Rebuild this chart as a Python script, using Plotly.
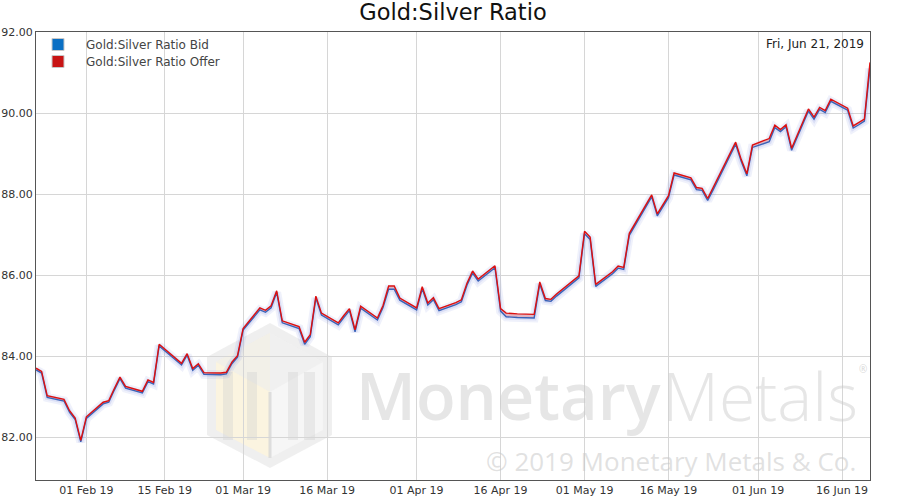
import plotly.graph_objects as go

# ---------------- data ----------------
dates = [
    "2019-01-23", "2019-01-24", "2019-01-25", "2019-01-28", "2019-01-29", "2019-01-30", "2019-01-31",
    "2019-02-01", "2019-02-04", "2019-02-05", "2019-02-06", "2019-02-07", "2019-02-08",
    "2019-02-11", "2019-02-12", "2019-02-13", "2019-02-14", "2019-02-15",
    "2019-02-18", "2019-02-19", "2019-02-20", "2019-02-21", "2019-02-22",
    "2019-02-25", "2019-02-26", "2019-02-27", "2019-02-28", "2019-03-01",
    "2019-03-04", "2019-03-05", "2019-03-06", "2019-03-07", "2019-03-08",
    "2019-03-11", "2019-03-12", "2019-03-13", "2019-03-14", "2019-03-15",
    "2019-03-18", "2019-03-19", "2019-03-20", "2019-03-21", "2019-03-22",
    "2019-03-25", "2019-03-26", "2019-03-27", "2019-03-28", "2019-03-29",
    "2019-04-01", "2019-04-02", "2019-04-03", "2019-04-04", "2019-04-05",
    "2019-04-08", "2019-04-09", "2019-04-10", "2019-04-11", "2019-04-12",
    "2019-04-15", "2019-04-16", "2019-04-17", "2019-04-18", "2019-04-19",
    "2019-04-22", "2019-04-23", "2019-04-24", "2019-04-25", "2019-04-26",
    "2019-04-29", "2019-04-30", "2019-05-01", "2019-05-02", "2019-05-03",
    "2019-05-06", "2019-05-07", "2019-05-08", "2019-05-09", "2019-05-10",
    "2019-05-13", "2019-05-14", "2019-05-15", "2019-05-16", "2019-05-17",
    "2019-05-20", "2019-05-21", "2019-05-22", "2019-05-23", "2019-05-24",
    "2019-05-28", "2019-05-29", "2019-05-30", "2019-05-31",
    "2019-06-03", "2019-06-04", "2019-06-05", "2019-06-06", "2019-06-07",
    "2019-06-10", "2019-06-11", "2019-06-12", "2019-06-13", "2019-06-14",
    "2019-06-17", "2019-06-18", "2019-06-19", "2019-06-20", "2019-06-21",
]

offer = [
    83.70, 83.62, 83.02, 82.93, 82.65, 82.47, 81.92,
    82.50, 82.86, 82.90, 83.20, 83.48, 83.25,
    83.13, 83.41, 83.35, 84.29, 84.17,
    83.82, 84.06, 83.69, 83.81, 83.59,
    83.58, 83.60, 83.85, 84.01, 84.68,
    85.19, 85.13, 85.24, 85.61, 84.87,
    84.73, 84.34, 84.53, 85.48, 85.06,
    84.82, 85.00, 85.17, 84.65, 85.23,
    84.94, 85.25, 85.73, 85.73, 85.43,
    85.19, 85.71, 85.31, 85.44, 85.17,
    85.32, 85.39, 85.80, 86.10, 85.90,
    86.23, 85.17, 85.06, 85.05, 85.04,
    85.03, 85.83, 85.42, 85.40, 85.53,
    85.86, 85.98, 87.08, 86.94, 85.77,
    86.08, 86.22, 86.19, 87.03, 87.27,
    87.98, 87.51, 87.74, 87.96, 88.52,
    88.40, 88.16, 88.14, 87.89, 88.16,
    89.28, 88.85, 88.50, 89.21,
    89.37, 89.70, 89.59, 89.71, 89.13,
    90.10, 89.90, 90.14, 90.06, 90.34,
    90.12, 89.68, 89.76, 89.85, 91.25,
]

bid = [
    83.66, 83.58, 82.98, 82.89, 82.61, 82.43, 81.88,
    82.46, 82.82, 82.86, 83.16, 83.44, 83.21,
    83.09, 83.37, 83.31, 84.25, 84.13,
    83.78, 84.02, 83.65, 83.77, 83.55,
    83.54, 83.56, 83.81, 83.97, 84.64,
    85.14, 85.08, 85.19, 85.57, 84.82,
    84.68, 84.29, 84.48, 85.43, 85.01,
    84.77, 84.95, 85.12, 84.60, 85.18,
    84.89, 85.20, 85.65, 85.65, 85.38,
    85.14, 85.66, 85.26, 85.39, 85.12,
    85.27, 85.34, 85.75, 86.05, 85.85,
    86.18, 85.11, 84.97, 84.96, 84.95,
    84.94, 85.78, 85.37, 85.35, 85.48,
    85.81, 85.93, 87.02, 86.88, 85.72,
    86.03, 86.17, 86.14, 86.98, 87.22,
    87.93, 87.46, 87.69, 87.91, 88.47,
    88.35, 88.11, 88.09, 87.84, 88.11,
    89.23, 88.80, 88.45, 89.15,
    89.29, 89.64, 89.54, 89.66, 89.08,
    90.05, 89.85, 90.09, 90.01, 90.29,
    90.07, 89.63, 89.71, 89.80, 91.10,
]

x_tick_vals = ["2019-02-01", "2019-02-15", "2019-03-01", "2019-03-16", "2019-04-01",
               "2019-04-16", "2019-05-01", "2019-05-16", "2019-06-01", "2019-06-16"]
y_tick_vals = [82, 84, 86, 88, 90, 92]

series_names = ["Gold:Silver Ratio Bid", "Gold:Silver Ratio Offer"]
title_text = "Gold:Silver Ratio"
date_text = "Fri, Jun 21, 2019"
x_range = ["2019-01-23", "2019-06-21"]
y_range = [80.94, 92.0]

# ---------------- geometry helpers (decoration only) ----------------
W, H = 900, 500
L, R, T, B = 36, 30, 32, 20
PW, PH = W - L - R, H - T - B


def px(x):
    return (x - L) / PW


def py(y):
    return (H - B - y) / PH


def path(points):
    return "M " + " L ".join(f"{px(a):.4f},{py(b):.4f}" for a, b in points) + " Z"


FONT = "DejaVu Sans"
BLUE = "#3a63b8"
RED = "#dc1010"

fig = go.Figure()

# soft glow under the lines
fig.add_trace(go.Scatter(x=dates, y=bid, mode="lines", showlegend=False, hoverinfo="skip",
                         line=dict(color="rgba(130,145,225,0.13)", width=9)))
fig.add_trace(go.Scatter(x=dates, y=bid, mode="lines", showlegend=False, hoverinfo="skip",
                         line=dict(color="rgba(130,145,225,0.18)", width=5)))

# bid and offer lines with fill between
fig.add_trace(go.Scatter(x=dates, y=bid, mode="lines", name=series_names[0], showlegend=False,
                         line=dict(color=BLUE, width=1.4)))
fig.add_trace(go.Scatter(x=dates, y=offer, mode="lines", name=series_names[1], showlegend=False,
                         line=dict(color=RED, width=1.4), fill="tonexty",
                         fillcolor="rgba(230,70,70,0.28)"))

# legend entries (square swatches), one legend box per entry for exact spacing
fig.add_trace(go.Scatter(x=[None], y=[None], mode="markers", name=series_names[0], legend="legend",
                         marker=dict(symbol="square", size=12, color="#0a6fc4",
                                     line=dict(color="#c8c8c8", width=1))))
fig.add_trace(go.Scatter(x=[None], y=[None], mode="markers", name=series_names[1], legend="legend2",
                         marker=dict(symbol="square", size=12, color="#c81414",
                                     line=dict(color="#c8c8c8", width=1))))

# ---------------- watermark logo (hexagon) ----------------
hexo = [(270, 323), (332, 357), (332, 435), (270, 468), (207, 435), (207, 357)]
left_face = [(270, 333), (270, 458), (216, 430), (216, 362)]
right_face = [(270, 333), (323, 362), (323, 430), (270, 458)]
shapes = [
    dict(type="path", path=path(hexo), xref="paper", yref="paper", layer="below",
         fillcolor="rgba(226,226,226,0.55)", line=dict(width=0)),
    dict(type="path", path=path(left_face), xref="paper", yref="paper", layer="below",
         fillcolor="rgba(252,244,222,0.9)", line=dict(width=0)),
    dict(type="path", path=path(right_face), xref="paper", yref="paper", layer="below",
         fillcolor="rgba(246,246,246,0.95)", line=dict(width=0)),
    dict(type="path", path=path([(216, 362), (270, 392), (323, 362), (270, 333)]),
         xref="paper", yref="paper", layer="below",
         fillcolor="rgba(236,236,236,0.6)", line=dict(width=0)),
    dict(type="line", xref="paper", yref="paper", layer="below",
         x0=px(270), x1=px(270), y0=py(392), y1=py(458),
         line=dict(color="rgba(215,215,215,0.8)", width=3)),
]
for (a, b) in [(223, 233), (247, 257), (288, 298), (304, 315)]:
    shapes.append(dict(type="rect", xref="paper", yref="paper", layer="below",
                       x0=px(a), x1=px(b), y0=py(440), y1=py(372),
                       fillcolor="rgba(205,205,205,0.35)", line=dict(width=0)))

annotations = [
    dict(text=date_text, xref="paper", yref="paper", x=px(866), y=py(44),
         xanchor="right", yanchor="middle", showarrow=False,
         font=dict(family=FONT, size=12, color="#222")),
    dict(text="Monetary", xref="paper", yref="paper", x=px(354), y=py(395),
         xanchor="left", yanchor="middle", showarrow=False,
         font=dict(family="Open Sans", size=65, color="rgba(200,200,200,0.45)", weight=600)),
    dict(text="Metals", xref="paper", yref="paper", x=px(660), y=py(395),
         xanchor="left", yanchor="middle", showarrow=False,
         font=dict(family="Open Sans", size=66, color="rgba(200,200,200,0.45)", weight=300)),
    dict(text="®", xref="paper", yref="paper", x=px(863), y=py(369),
         xanchor="center", yanchor="middle", showarrow=False,
         font=dict(family="Open Sans", size=10, color="rgba(190,190,190,0.6)")),
    dict(text="© 2019 Monetary Metals & Co.", xref="paper", yref="paper", x=px(858), y=py(461),
         xanchor="right", yanchor="middle", showarrow=False,
         font=dict(family="Open Sans", size=26, color="rgba(200,200,200,0.55)")),
]

legend_common = dict(xanchor="left", yanchor="top", traceorder="normal",
                     bgcolor="rgba(0,0,0,0)", itemwidth=46, tracegroupgap=0,
                     font=dict(family=FONT, size=12, color="#444"))

fig.update_layout(
    width=W, height=H,
    margin=dict(l=L, r=R, t=T, b=B, autoexpand=False),
    paper_bgcolor="white", plot_bgcolor="white",
    title=dict(text=title_text, x=0.5, xanchor="center", xref="paper",
               y=1 - 12 / H, yref="container", yanchor="middle",
               font=dict(family=FONT, size=22.5, color="#111")),
    showlegend=True,
    legend=dict(x=px(30), y=py(30), **legend_common),
    legend2=dict(x=px(30), y=py(47), **legend_common),
    xaxis=dict(type="date", range=x_range, tickvals=x_tick_vals, tickformat="%d %b %y",
               showgrid=True, gridcolor="#d6d6d6", gridwidth=1,
               showline=True, linecolor="#555", linewidth=1, mirror=True,
               ticks="", zeroline=False, automargin=False,
               tickfont=dict(family=FONT, size=11, color="#333")),
    yaxis=dict(range=y_range, tickvals=y_tick_vals, tickformat=".2f",
               showgrid=True, gridcolor="#d6d6d6", gridwidth=1,
               showline=True, linecolor="#555", linewidth=1, mirror=True,
               ticks="", zeroline=False, automargin=False,
               tickfont=dict(family=FONT, size=11, color="#333")),
    shapes=shapes,
    annotations=annotations,
    hovermode=False,
)

fig.write_html("out.html", config={"displayModeBar": False})

# remove the browser's default page margin so the figure sits at the window's top-left
with open("out.html", "r", encoding="utf-8") as f:
    html = f.read()
html = html.replace("<head>", "<head><style>html,body{margin:0;padding:0;overflow:hidden;}</style>", 1)
with open("out.html", "w", encoding="utf-8") as f:
    f.write(html)
